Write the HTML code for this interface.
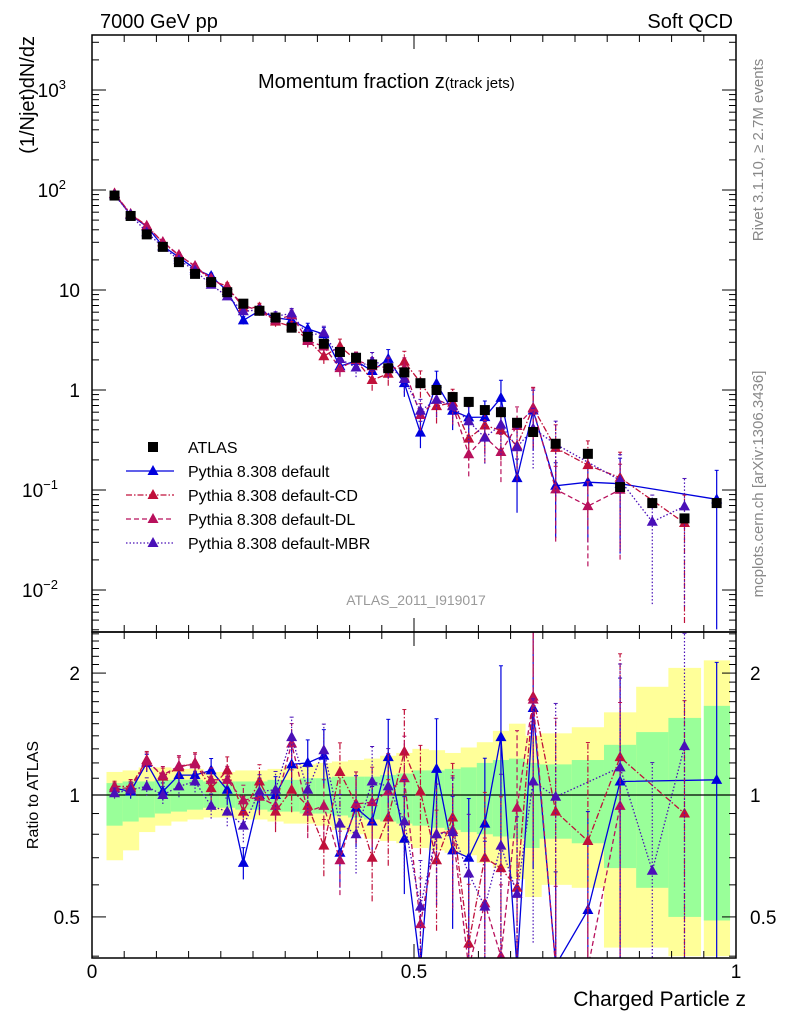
<!DOCTYPE html>
<html><head><meta charset="utf-8"><style>
html,body{margin:0;padding:0;background:#fff;overflow:hidden;width:786px;height:1024px}
svg{display:block;font-family:"Liberation Sans",sans-serif}
</style></head><body>
<svg id="c" width="786" height="1024" viewBox="0 0 786 1024" xmlns="http://www.w3.org/2000/svg"></svg>
<script>
const zCenters=[0.035,0.06,0.085,0.11,0.135,0.16,0.185,0.21,0.235,0.26,0.285,0.31,0.335,0.36,0.385,0.41,0.435,0.46,0.485,0.51,0.535,0.56,0.585,0.61,0.635,0.66,0.685,0.72,0.77,0.82,0.87,0.92,0.97];
const zHalf=[0.0125,0.0125,0.0125,0.0125,0.0125,0.0125,0.0125,0.0125,0.0125,0.0125,0.0125,0.0125,0.0125,0.0125,0.0125,0.0125,0.0125,0.0125,0.0125,0.0125,0.0125,0.0125,0.0125,0.0125,0.0125,0.0125,0.0125,0.025,0.025,0.025,0.025,0.025,0.02];
const atlas=[88,55,36,27,19,14.5,12,9.5,7.3,6.2,5.3,4.2,3.4,2.9,2.4,2.1,1.8,1.65,1.5,1.17,1.0,0.85,0.76,0.63,0.6,0.47,0.38,0.29,0.23,0.107,0.074,0.052,0.074];
const rDefault=[1.04,1.02,1.2,1.02,1.12,1.12,1.15,1.03,0.68,1.0,1.0,1.19,1.2,1.25,0.72,0.93,0.86,1.24,0.78,0.32,1.16,0.73,0.7,0.85,1.39,0.28,1.64,0.38,0.52,1.08,null,null,1.09];
const rCD=[1.05,1.05,1.22,1.11,1.17,1.2,1.04,1.15,0.91,1.08,0.91,1.03,0.94,0.75,1.14,0.95,0.7,0.88,1.28,1.02,0.69,0.88,0.43,0.7,0.66,0.59,1.75,0.91,0.77,1.24,null,0.9,null];
const rDL=[1.04,1.04,1.21,1.12,1.18,1.19,1.09,1.09,0.97,0.99,0.94,1.34,0.91,0.94,0.69,0.95,0.96,1.02,1.1,0.48,0.8,0.82,0.3,0.54,0.4,0.93,1.72,0.35,0.3,0.94,null,null,null];
const rMBR=[1.01,1.03,1.05,1.0,1.05,1.08,0.94,0.91,0.84,1.02,1.03,1.39,1.03,1.29,0.85,0.8,1.08,1.05,0.86,0.53,0.8,0.81,0.64,0.53,0.75,0.57,1.08,0.99,null,1.17,0.65,1.32,null];
const relErr=[0.03,0.04,0.05,0.05,0.06,0.06,0.07,0.08,0.09,0.1,0.11,0.12,0.14,0.16,0.18,0.2,0.22,0.24,0.27,0.3,0.33,0.36,0.4,0.45,0.5,0.55,0.6,0.7,0.75,0.8,0.85,0.9,0.95];
const yelUp=[1.14,1.15,1.17,1.17,1.16,1.16,1.14,1.14,1.15,1.15,1.16,1.18,1.19,1.2,1.21,1.22,1.23,1.25,1.27,1.3,1.29,1.27,1.31,1.35,1.44,1.5,1.4,1.42,1.47,1.6,1.85,2.06,2.15];
const yelDn=[0.69,0.73,0.81,0.84,0.86,0.87,0.88,0.88,0.87,0.87,0.86,0.85,0.85,0.84,0.82,0.8,0.78,0.77,0.76,0.74,0.73,0.72,0.71,0.68,0.66,0.62,0.56,0.6,0.59,0.42,0.42,0.4,0.4];
const grnUp=[1.07,1.08,1.08,1.09,1.09,1.09,1.08,1.08,1.08,1.08,1.09,1.09,1.1,1.1,1.11,1.11,1.11,1.12,1.13,1.15,1.15,1.16,1.17,1.2,1.22,1.23,1.2,1.19,1.22,1.33,1.43,1.55,1.66];
const grnDn=[0.84,0.86,0.88,0.9,0.91,0.92,0.93,0.93,0.92,0.92,0.91,0.91,0.9,0.9,0.89,0.88,0.87,0.86,0.85,0.84,0.83,0.82,0.81,0.8,0.79,0.78,0.74,0.78,0.76,0.66,0.59,0.5,0.49];

const S=document.getElementById('c'),NS='http://www.w3.org/2000/svg';
function el(t,a,p){const e=document.createElementNS(NS,t);for(const k in a)e.setAttribute(k,a[k]);(p||S).appendChild(e);return e;}
const X0=92,X1=736,T=35,M=632,B=958;
const X=z=>X0+(X1-X0)*z;
const cl=(v,a,b)=>Math.max(a,Math.min(b,v));
const Y=v=>cl(390-100*Math.log10(v),T-10,M+10);
const R=r=>cl(795-405*Math.log10(r),M-10,B+10);
const defs=el('defs',{});
const c1=el('clipPath',{id:'cm'},defs);el('rect',{x:X0,y:T,width:X1-X0,height:M-T},c1);
const c2=el('clipPath',{id:'cr'},defs);el('rect',{x:X0,y:M,width:X1-X0,height:B-M},c2);
const gm=el('g',{'clip-path':'url(#cm)'});


const gr=el('g',{'clip-path':'url(#cr)'});


zCenters.forEach((z,i)=>{
  const a=el('rect',{x:X(z-zHalf[i]),y:R(yelUp[i]),width:X(z+zHalf[i])-X(z-zHalf[i])+0.5,height:R(yelDn[i])-R(yelUp[i]),fill:'#ffff99'},gr);
  
  
  const b=el('rect',{x:X(z-zHalf[i]),y:R(grnUp[i]),width:X(z+zHalf[i])-X(z-zHalf[i])+0.5,height:R(grnDn[i])-R(grnUp[i]),fill:'#99ff99'},gr);
  
  
});
el('line',{x1:X0,x2:X1,y1:R(1),y2:R(1),stroke:'#000','stroke-width':1.3},gr);
const series=[
 {name:'default',r:rDefault,col:'#0000dd',dash:''},
 {name:'default-cd',r:rCD,col:'#c0103a',dash:'6,2,1.5,2'},
 {name:'default-dl',r:rDL,col:'#b8105c',dash:'5,3'},
 {name:'default-mbr',r:rMBR,col:'#4a10b8',dash:'1.5,2'}];
function tri(g,x,y,col){return el('path',{d:`M${x},${y-6}L${x+5.5},${y+4}L${x-5.5},${y+4}Z`,fill:col},g);}
series.forEach(s=>{
  [gm,gr].forEach((g,pi)=>{
    const val=i=>pi?s.r[i]:atlas[i]*s.r[i];
    const f=pi?R:Y;
    let d='';
    zCenters.forEach((z,i)=>{if(s.r[i]==null)return;d+=(d?'L':'M')+X(z).toFixed(1)+','+f(val(i)).toFixed(1);});
    const p=el('path',{d:d,fill:'none',stroke:s.col,'stroke-width':1.3,'stroke-dasharray':s.dash},g);
    
    
    zCenters.forEach((z,i)=>{
      if(s.r[i]==null)return;
      const v=val(i),e=relErr[i];
      const lo=Math.max(v*(1-e),1e-4),hi=v*(1+e);
      const x=X(z);
      el('line',{x1:x,x2:x,y1:f(lo),y2:f(hi),stroke:s.col,'stroke-width':1.2,'stroke-dasharray':s.dash},g);
      el('line',{x1:x-2,x2:x+2,y1:f(hi),y2:f(hi),stroke:s.col,'stroke-width':1},g);
      const t=tri(g,x,f(v),s.col);
      
      
    });
  });
});
zCenters.forEach((z,i)=>{
  const x=X(z),y=Y(atlas[i]);
  el('line',{x1:x,x2:x,y1:Y(atlas[i]*1.03),y2:Y(atlas[i]*0.97),stroke:'#000'},gm);
  const r=el('rect',{x:x-5,y:y-5,width:10,height:10,fill:'#000'},gm);
  
  
});
el('rect',{x:X0,y:T,width:X1-X0,height:M-T,fill:'none',stroke:'#000','stroke-width':1.5});
el('rect',{x:X0,y:M,width:X1-X0,height:B-M,fill:'none',stroke:'#000','stroke-width':1.5});
for(let d=-3;d<=4;d++){for(let m=1;m<10;m++){const v=m*Math.pow(10,d);const y=390-100*Math.log10(v);if(y<T||y>M)continue;const L=m==1?14:7;
 el('line',{x1:X0,x2:X0+L,y1:y,y2:y,stroke:'#000'});el('line',{x1:X1-L,x2:X1,y1:y,y2:y,stroke:'#000'});}}
[0.4,0.5,0.6,0.7,0.8,0.9,1,1.1,1.2,1.3,1.4,1.5,1.6,1.7,1.8,1.9,2,2.1,2.2,2.3,2.4,2.5].forEach(r=>{const y=795-405*Math.log10(r);if(y<M||y>B)return;const L=[0.5,1,2].includes(r)?14:7;
 el('line',{x1:X0,x2:X0+L,y1:y,y2:y,stroke:'#000'});el('line',{x1:X1-L,x2:X1,y1:y,y2:y,stroke:'#000'});});
for(let k=0;k<=20;k++){const z=k*0.05,x=X(z),L=k%10==0?14:7;
 [[M,M-L],[M,M+L],[B,B-L],[T,T+L]].forEach(a=>el('line',{x1:x,x2:x,y1:a[0],y2:a[1],stroke:'#000'}));}
function txt(s,a,name){const t=el('text',a);t.textContent=s;return t;}
[[3,'3'],[2,'2']].forEach(a=>{const t=txt('10',{x:66,y:390-100*a[0]+7,'font-size':19,'text-anchor':'end'},'y-tick-label');const s=el('tspan',{dy:-8,'font-size':13},t);s.textContent=a[1];});
txt('10',{x:80,y:297,'font-size':19,'text-anchor':'end'},'y-tick-label');
txt('1',{x:80,y:397,'font-size':19,'text-anchor':'end'},'y-tick-label');
[[-1,'−1'],[-2,'−2']].forEach(a=>{const t=txt('10',{x:58,y:390-100*a[0]+7,'font-size':19,'text-anchor':'end'},'y-tick-label');const s=el('tspan',{dy:-8,'font-size':13},t);s.textContent=a[1];});
[[2,'2'],[1,'1'],[0.5,'0.5']].forEach(a=>{txt(a[1],{x:80,y:R(a[0])+7,'font-size':19,'text-anchor':'end'},'ratio-tick-label');txt(a[1],{x:750,y:R(a[0])+7,'font-size':19},'ratio-tick-label');});
[['0',0],['0.5',0.5],['1',1]].forEach(a=>txt(a[0],{x:X(a[1]),y:978,'font-size':19,'text-anchor':'middle'},'x-tick-label'));
txt('7000 GeV pp',{x:100,y:28,'font-size':20},'energy-label');
txt('Soft QCD',{x:733,y:28,'font-size':20,'text-anchor':'end'},'process-label');
const tt=txt('Momentum fraction z',{x:258,y:88,'font-size':20},'plot-title');const ts=el('tspan',{'font-size':15},tt);ts.textContent='(track jets)';
txt('(1/Njet)dN/dz',{x:0,y:0,'font-size':20,'text-anchor':'end',transform:'translate(34,36) rotate(-90)'},'y-axis-title');
txt('Ratio to ATLAS',{x:0,y:0,'font-size':16,'text-anchor':'middle',transform:'translate(38,795) rotate(-90)'},'ratio-axis-title');
txt('Charged Particle z',{x:746,y:1006,'font-size':21,'text-anchor':'end'},'x-axis-title');
txt('Rivet 3.1.10, ≥ 2.7M events',{x:0,y:0,'font-size':15,fill:'#888','text-anchor':'middle',transform:'translate(763,150) rotate(-90)'},'rivet-label');
txt('mcplots.cern.ch [arXiv:1306.3436]',{x:0,y:0,'font-size':15,fill:'#888','text-anchor':'middle',transform:'translate(763,484) rotate(-90)'},'mcplots-label');
txt('ATLAS_2011_I919017',{x:416,y:605,'font-size':14,fill:'#999','text-anchor':'middle'},'analysis-id');
const lg=[['ATLAS',null],['Pythia 8.308 default',series[0]],['Pythia 8.308 default-CD',series[1]],['Pythia 8.308 default-DL',series[2]],['Pythia 8.308 default-MBR',series[3]]];
lg.forEach((a,i)=>{const y=447+24*i;
 if(!a[1]){el('rect',{x:148,y:y-5,width:10,height:10,fill:'#000'});}
 else{el('line',{x1:126,x2:174,y1:y,y2:y,stroke:a[1].col,'stroke-width':1.3,'stroke-dasharray':a[1].dash});tri(S,153,y,a[1].col);}
 txt(a[0],{x:188,y:y+6,'font-size':16},'legend-entry');});
</script>
</body></html>
